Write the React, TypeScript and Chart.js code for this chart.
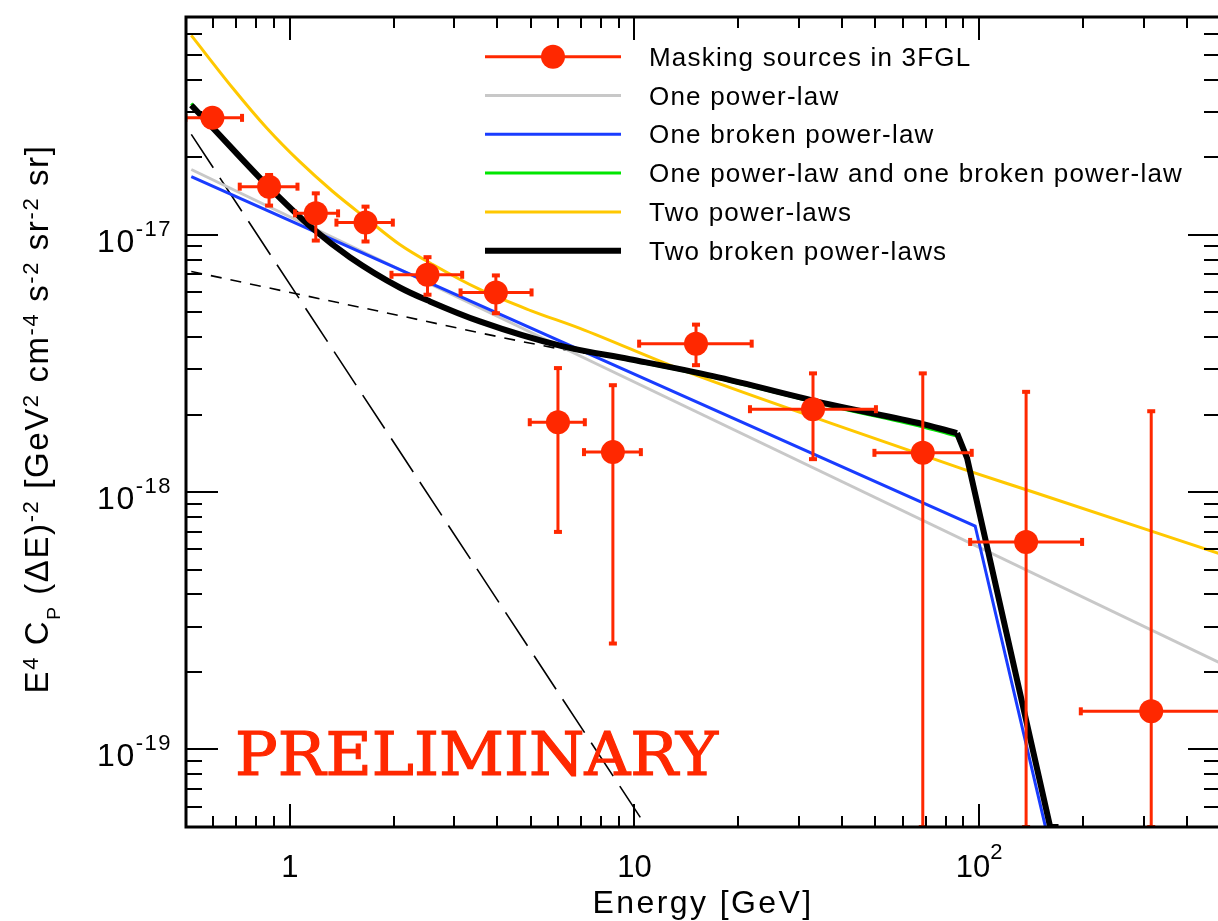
import React, { useEffect, useRef } from "react";
import { Chart, registerables } from "chart.js";

Chart.register(...registerables);

// ---------------- axis ranges & ticks ----------------
const X_MIN = 0.5;
const X_MAX = 500;
const Y_MIN = 5e-20;
const Y_MAX = 7e-17;
const xMajorTicks = [1, 10, 100];
const xTickBase = ["1", "10", "10"];
const xTickSup = ["", "", "2"];
const yMajorTicks = [1e-19, 1e-18, 1e-17];
const yTickBase = ["10", "10", "10"];
const yTickSup = ["-19", "-18", "-17"];

// ---------------- data points: Masking sources in 3FGL ----------------
const energy = [0.5965, 0.871, 1.19, 1.659, 2.51, 3.963, 6.0, 8.66, 15.09, 32.97, 68.65, 136.9, 315.8];
const energyLo = [0.498, 0.716, 1.036, 1.366, 1.973, 3.13, 4.97, 7.14, 10.32, 21.64, 49.7, 94.2, 197.3];
const energyHi = [0.727, 1.053, 1.381, 1.991, 3.164, 5.03, 7.18, 10.44, 21.89, 50.2, 95.2, 199, 504];
const cp = [2.84e-17, 1.535e-17, 1.209e-17, 1.113e-17, 6.98e-18, 5.96e-18, 1.867e-18, 1.429e-18, 3.77e-18, 2.098e-18, 1.42e-18, 6.4e-19, 1.407e-19];
const cpLo = [2.646e-17, 1.296e-17, 9.48e-18, 9.4e-18, 5.84e-18, 4.95e-18, 7.0e-19, 2.58e-19, 3.11e-18, 1.342e-18, 5e-20, 5e-20, 5e-20];
const cpHi = [3.05e-17, 1.704e-17, 1.446e-17, 1.284e-17, 8.17e-18, 6.94e-18, 3.03e-18, 2.6e-18, 4.47e-18, 2.89e-18, 2.89e-18, 2.45e-18, 2.06e-18];

// ---------------- model curves ----------------
const onePLE = [0.518, 500];
const onePLV = [1.79e-17, 2.17e-19];

const oneBPLE = [0.518, 97.4, 162];
const oneBPLV = [1.68e-17, 7.38e-19, 4.0e-20];

const twoPLE = [0.518, 0.683, 0.856, 1.069, 1.333, 1.67, 2.085, 2.6, 3.56, 5.0, 6.95, 13.56, 36.9, 89.9, 140.6, 500];
const twoPLV = [5.94e-17, 3.71e-17, 2.6e-17, 1.919e-17, 1.47e-17, 1.154e-17, 9.15e-18, 7.65e-18, 6.12e-18, 5.07e-18, 4.32e-18, 3.0e-18, 1.856e-18, 1.228e-18, 1.009e-18, 5.75e-19];

// two broken power-laws: smooth part below the break, and the cut-off above it
const twoBPLE = [0.518, 0.598, 0.856, 1.166, 1.494, 2.085, 2.55, 3.56, 6.2, 9.7, 16.9, 36.9, 68.8, 81.3, 86.3];
const twoBPLV = [3.18e-17, 2.598e-17, 1.563e-17, 1.055e-17, 8.17e-18, 6.23e-18, 5.5e-18, 4.6e-18, 3.68e-18, 3.28e-18, 2.82e-18, 2.19e-18, 1.835e-18, 1.73e-18, 1.694e-18];
const twoBPLTailE = [86.3, 92.3, 160.8, 170];
const twoBPLTailV = [1.694e-18, 1.354e-18, 5e-20, 5e-20];

const plBplE = [0.518, 0.598, 0.856, 1.166, 1.494, 2.085, 2.55, 3.56, 6.2, 9.7, 16.9, 36.9, 68.8, 81.3, 86.3];
const plBplV = [3.23e-17, 2.61e-17, 1.56e-17, 1.05e-17, 8.14e-18, 6.2e-18, 5.47e-18, 4.58e-18, 3.66e-18, 3.25e-18, 2.79e-18, 2.16e-18, 1.79e-18, 1.685e-18, 1.65e-18];
const plBplTailE = [86.3, 92.3, 160.8];
const plBplTailV = [1.65e-18, 1.34e-18, 5e-20];

const compSteepE = [0.518, 10.4];
const compSteepV = [2.45e-17, 5.45e-20];

const compFlatE = [0.518, 1.825, 6.2, 9.7, 16.9, 36.9, 68.8, 86.3];
const compFlatV = [7.19e-18, 5.03e-18, 3.58e-18, 3.25e-18, 2.8e-18, 2.18e-18, 1.83e-18, 1.69e-18];

const legendLabels = [
  "Masking sources in 3FGL",
  "One power-law",
  "One broken power-law",
  "One power-law and one broken power-law",
  "Two power-laws",
  "Two broken power-laws",
];

// ---------------- styles ----------------
const RED = "rgb(255,40,0)";
const GRAY = "rgb(200,200,200)";
const BLUE = "rgb(25,60,255)";
const GREEN = "rgb(0,230,0)";
const YELLOW = "rgb(255,200,0)";
const BLACK = "#000";
const FONT = "'Liberation Sans', Arial, Helvetica, sans-serif";

const pts = (xs: number[], ys: number[]) => xs.map((x, i) => ({ x, y: ys[i] }));

function minorValues(min: number, max: number) {
  const out: { v: number; major: boolean }[] = [];
  const d0 = Math.floor(Math.log10(min)) - 1;
  const d1 = Math.ceil(Math.log10(max)) + 1;
  for (let d = d0; d <= d1; d++) {
    for (let m = 1; m <= 9; m++) {
      const v = m * Math.pow(10, d);
      if (v >= min * 0.999 && v <= max * 1.001) out.push({ v, major: m === 1 });
    }
  }
  return out;
}

type Seg = { t: string; k: "n" | "sup" | "sub" };

function drawRich(
  ctx: CanvasRenderingContext2D,
  segs: Seg[],
  x: number,
  y: number,
  align: "left" | "center" | "right",
  sizes: { n: number; sup: number; sub: number },
  offs: { sup: number; sub: number },
  spacing: number
) {
  const fontOf = (s: Seg) => `${s.k === "n" ? sizes.n : s.k === "sup" ? sizes.sup : sizes.sub}px ${FONT}`;
  (ctx as any).letterSpacing = `${spacing}px`;
  const widths = segs.map((s) => {
    ctx.font = fontOf(s);
    return ctx.measureText(s.t).width;
  });
  const total = widths.reduce((a, b) => a + b, 0);
  let cx = align === "left" ? x : align === "center" ? x - total / 2 : x - total;
  segs.forEach((s, i) => {
    ctx.font = fontOf(s);
    const dy = s.k === "sup" ? -offs.sup : s.k === "sub" ? offs.sub : 0;
    ctx.fillText(s.t, cx, y + dy);
    cx += widths[i];
  });
  (ctx as any).letterSpacing = "0px";
}

const POINTS_LABEL = legendLabels[0];

const errorBarPlugin = {
  id: "errorBars",
  beforeDatasetDraw(chart: any, args: any) {
    const ds = chart.data.datasets[args.index];
    if (ds.label !== POINTS_LABEL) return;
    const ctx: CanvasRenderingContext2D = chart.ctx;
    const xs = chart.scales.x;
    const ys = chart.scales.y;
    const a = chart.chartArea;
    ctx.save();
    ctx.beginPath();
    ctx.rect(a.left, a.top, a.right - a.left, a.bottom - a.top);
    ctx.clip();
    ctx.strokeStyle = RED;
    ctx.fillStyle = RED;
    for (let i = 0; i < energy.length; i++) {
      const px = xs.getPixelForValue(energy[i]);
      const py = ys.getPixelForValue(cp[i]);
      const x0 = xs.getPixelForValue(energyLo[i]);
      const x1 = xs.getPixelForValue(energyHi[i]);
      const y0 = ys.getPixelForValue(cpLo[i]);
      const y1 = ys.getPixelForValue(cpHi[i]);
      ctx.lineWidth = 3;
      ctx.beginPath();
      ctx.moveTo(x0, py);
      ctx.lineTo(x1, py);
      ctx.moveTo(px, y1);
      ctx.lineTo(px, y0);
      ctx.stroke();
      ctx.fillRect(x0 - 2, py - 4, 4, 8);
      ctx.fillRect(x1 - 2, py - 4, 4, 8);
      ctx.fillRect(px - 4, y0 - 2, 8, 4);
      ctx.fillRect(px - 4, y1 - 2, 8, 4);
    }
    ctx.restore();
  },
};

const framePlugin = {
  id: "frameAxes",
  afterDatasetsDraw(chart: any) {
    const ctx: CanvasRenderingContext2D = chart.ctx;
    const xs = chart.scales.x;
    const ys = chart.scales.y;
    const { left, right, top, bottom } = chart.chartArea;
    ctx.save();
    ctx.strokeStyle = "#000";
    ctx.lineWidth = 2;
    ctx.beginPath();
    for (const t of minorValues(X_MIN, X_MAX)) {
      const px = Math.round(xs.getPixelForValue(t.v));
      const len = t.major ? 23 : 11;
      ctx.moveTo(px, bottom);
      ctx.lineTo(px, bottom - len);
      ctx.moveTo(px, top);
      ctx.lineTo(px, top + len);
    }
    for (const t of minorValues(Y_MIN, Y_MAX)) {
      const py = Math.round(ys.getPixelForValue(t.v));
      const len = t.major ? 32 : 16;
      ctx.moveTo(left, py);
      ctx.lineTo(left + len, py);
      ctx.moveTo(right, py);
      ctx.lineTo(right - len, py);
    }
    ctx.stroke();
    ctx.lineWidth = 3;
    ctx.strokeRect(left, top, right - left, bottom - top);

    // PRELIMINARY
    ctx.fillStyle = RED;
    ctx.font = `59px 'DejaVu Serif', serif`;
    const word = "PRELIMINARY";
    const w = ctx.measureText(word).width;
    ctx.save();
    ctx.translate(235, 775);
    ctx.scale(483 / w, 1);
    ctx.strokeStyle = RED;
    ctx.lineWidth = 1.2;
    ctx.fillText(word, 0, 0);
    ctx.strokeText(word, 0, 0);
    ctx.restore();

    // tick labels
    ctx.fillStyle = "#000";
    ctx.textBaseline = "alphabetic";
    xMajorTicks.forEach((v, i) => {
      const px = xs.getPixelForValue(v);
      const segs: Seg[] = [{ t: xTickBase[i], k: "n" }];
      if (xTickSup[i]) segs.push({ t: xTickSup[i], k: "sup" });
      drawRich(ctx, segs, px, 877, "center", { n: 31, sup: 22, sub: 20 }, { sup: 18, sub: 0 }, 0);
    });
    yMajorTicks.forEach((v, i) => {
      const py = ys.getPixelForValue(v);
      drawRich(
        ctx,
        [
          { t: yTickBase[i], k: "n" },
          { t: yTickSup[i], k: "sup" },
        ],
        172,
        py + 17,
        "right",
        { n: 32, sup: 22, sub: 20 },
        { sup: 16, sub: 0 },
        1.5
      );
    });

    // axis titles
    drawRich(ctx, [{ t: "Energy [GeV]", k: "n" }], (left + right) / 2, 913, "center", { n: 32, sup: 22, sub: 20 }, { sup: 0, sub: 0 }, 2.4);

    ctx.save();
    ctx.translate(48, 419);
    ctx.rotate(-Math.PI / 2);
    const ySegs: Seg[] = [
      { t: "E", k: "n" },
      { t: "4", k: "sup" },
      { t: " C", k: "n" },
      { t: "P", k: "sub" },
      { t: " (ΔE)", k: "n" },
      { t: "-2", k: "sup" },
      { t: " [GeV", k: "n" },
      { t: "2", k: "sup" },
      { t: " cm", k: "n" },
      { t: "-4", k: "sup" },
      { t: " s", k: "n" },
      { t: "-2", k: "sup" },
      { t: " sr", k: "n" },
      { t: "-2", k: "sup" },
      { t: " sr]", k: "n" },
    ];
    drawRich(ctx, ySegs, 0, 0, "center", { n: 33, sup: 22, sub: 19 }, { sup: 10, sub: 12 }, 1.6);
    ctx.restore();

    // legend
    const rowTop = 56.7;
    const rowGap = 38.8;
    legendLabels.forEach((lab, i) => {
      const ds = chart.data.datasets.find((d: any) => d.label === lab);
      const y = rowTop + i * rowGap;
      const isPts = lab === POINTS_LABEL;
      const col = isPts ? RED : ds.borderColor;
      ctx.strokeStyle = col;
      ctx.lineWidth = isPts ? 3 : ds.borderWidth;
      ctx.beginPath();
      ctx.moveTo(485, y);
      ctx.lineTo(621, y);
      ctx.stroke();
      if (isPts) {
        ctx.fillStyle = RED;
        ctx.beginPath();
        ctx.arc(553, y, 12, 0, Math.PI * 2);
        ctx.fill();
      }
      ctx.fillStyle = "#000";
      ctx.font = `26px ${FONT}`;
      (ctx as any).letterSpacing = "1.2px";
      ctx.fillText(lab, 649, y + 9);
      (ctx as any).letterSpacing = "0px";
    });
    ctx.restore();
  },
};

export default function App() {
  const ref = useRef<HTMLCanvasElement | null>(null);
  useEffect(() => {
    if (!ref.current) return;
    const line = (
      label: string,
      xs: number[],
      ys: number[],
      color: string,
      width: number,
      order: number,
      smooth: boolean,
      dash?: number[]
    ) => ({
      label,
      data: pts(xs, ys),
      showLine: true,
      borderColor: color,
      backgroundColor: color,
      borderWidth: width,
      borderDash: dash || [],
      pointRadius: 0,
      pointHoverRadius: 0,
      fill: false,
      clip: 0,
      order,
      cubicInterpolationMode: smooth ? "monotone" : "default",
      tension: 0,
    });
    const chart = new Chart(ref.current, {
      type: "scatter",
      data: {
        datasets: [
          {
            label: legendLabels[0],
            data: pts(energy, cp),
            showLine: false,
            pointRadius: 12,
            pointHoverRadius: 12,
            pointBackgroundColor: RED,
            pointBorderWidth: 0,
            borderColor: RED,
            backgroundColor: RED,
            order: 0,
          } as any,
          line(legendLabels[5], twoBPLE, twoBPLV, BLACK, 6, 1, true),
          line(legendLabels[5] + " (cut-off)", twoBPLTailE, twoBPLTailV, BLACK, 6, 1, false),
          line(legendLabels[3], plBplE, plBplV, GREEN, 3, 2, true),
          line(legendLabels[3] + " (cut-off)", plBplTailE, plBplTailV, GREEN, 3, 2, false),
          line(legendLabels[4], twoPLE, twoPLV, YELLOW, 3, 3, true),
          line(legendLabels[2], oneBPLE, oneBPLV, BLUE, 3, 4, false),
          line(legendLabels[1], onePLE, onePLV, GRAY, 3, 5, false),
          line("component flat", compFlatE, compFlatV, BLACK, 1.6, 6, true, [11, 9]),
          line("component steep", compSteepE, compSteepV, BLACK, 1.6, 7, false, [40, 12]),
        ],
      },
      options: {
        responsive: false,
        animation: false,
        events: [],
        layout: { padding: { left: 186, top: 17, right: 20, bottom: 94 } },
        plugins: { legend: { display: false }, tooltip: { enabled: false } },
        scales: {
          x: { type: "logarithmic", min: X_MIN, max: X_MAX, display: false },
          y: { type: "logarithmic", min: Y_MIN, max: Y_MAX, display: false },
        },
      } as any,
      plugins: [errorBarPlugin, framePlugin],
    });
    return () => chart.destroy();
  }, []);
  return (
    <div style={{ position: "absolute", left: 0, top: 0, width: 1218, height: 921, overflow: "hidden", background: "#fff" }}>
      <canvas ref={ref} width={1240} height={921} style={{ display: "block" }} />
    </div>
  );
}
